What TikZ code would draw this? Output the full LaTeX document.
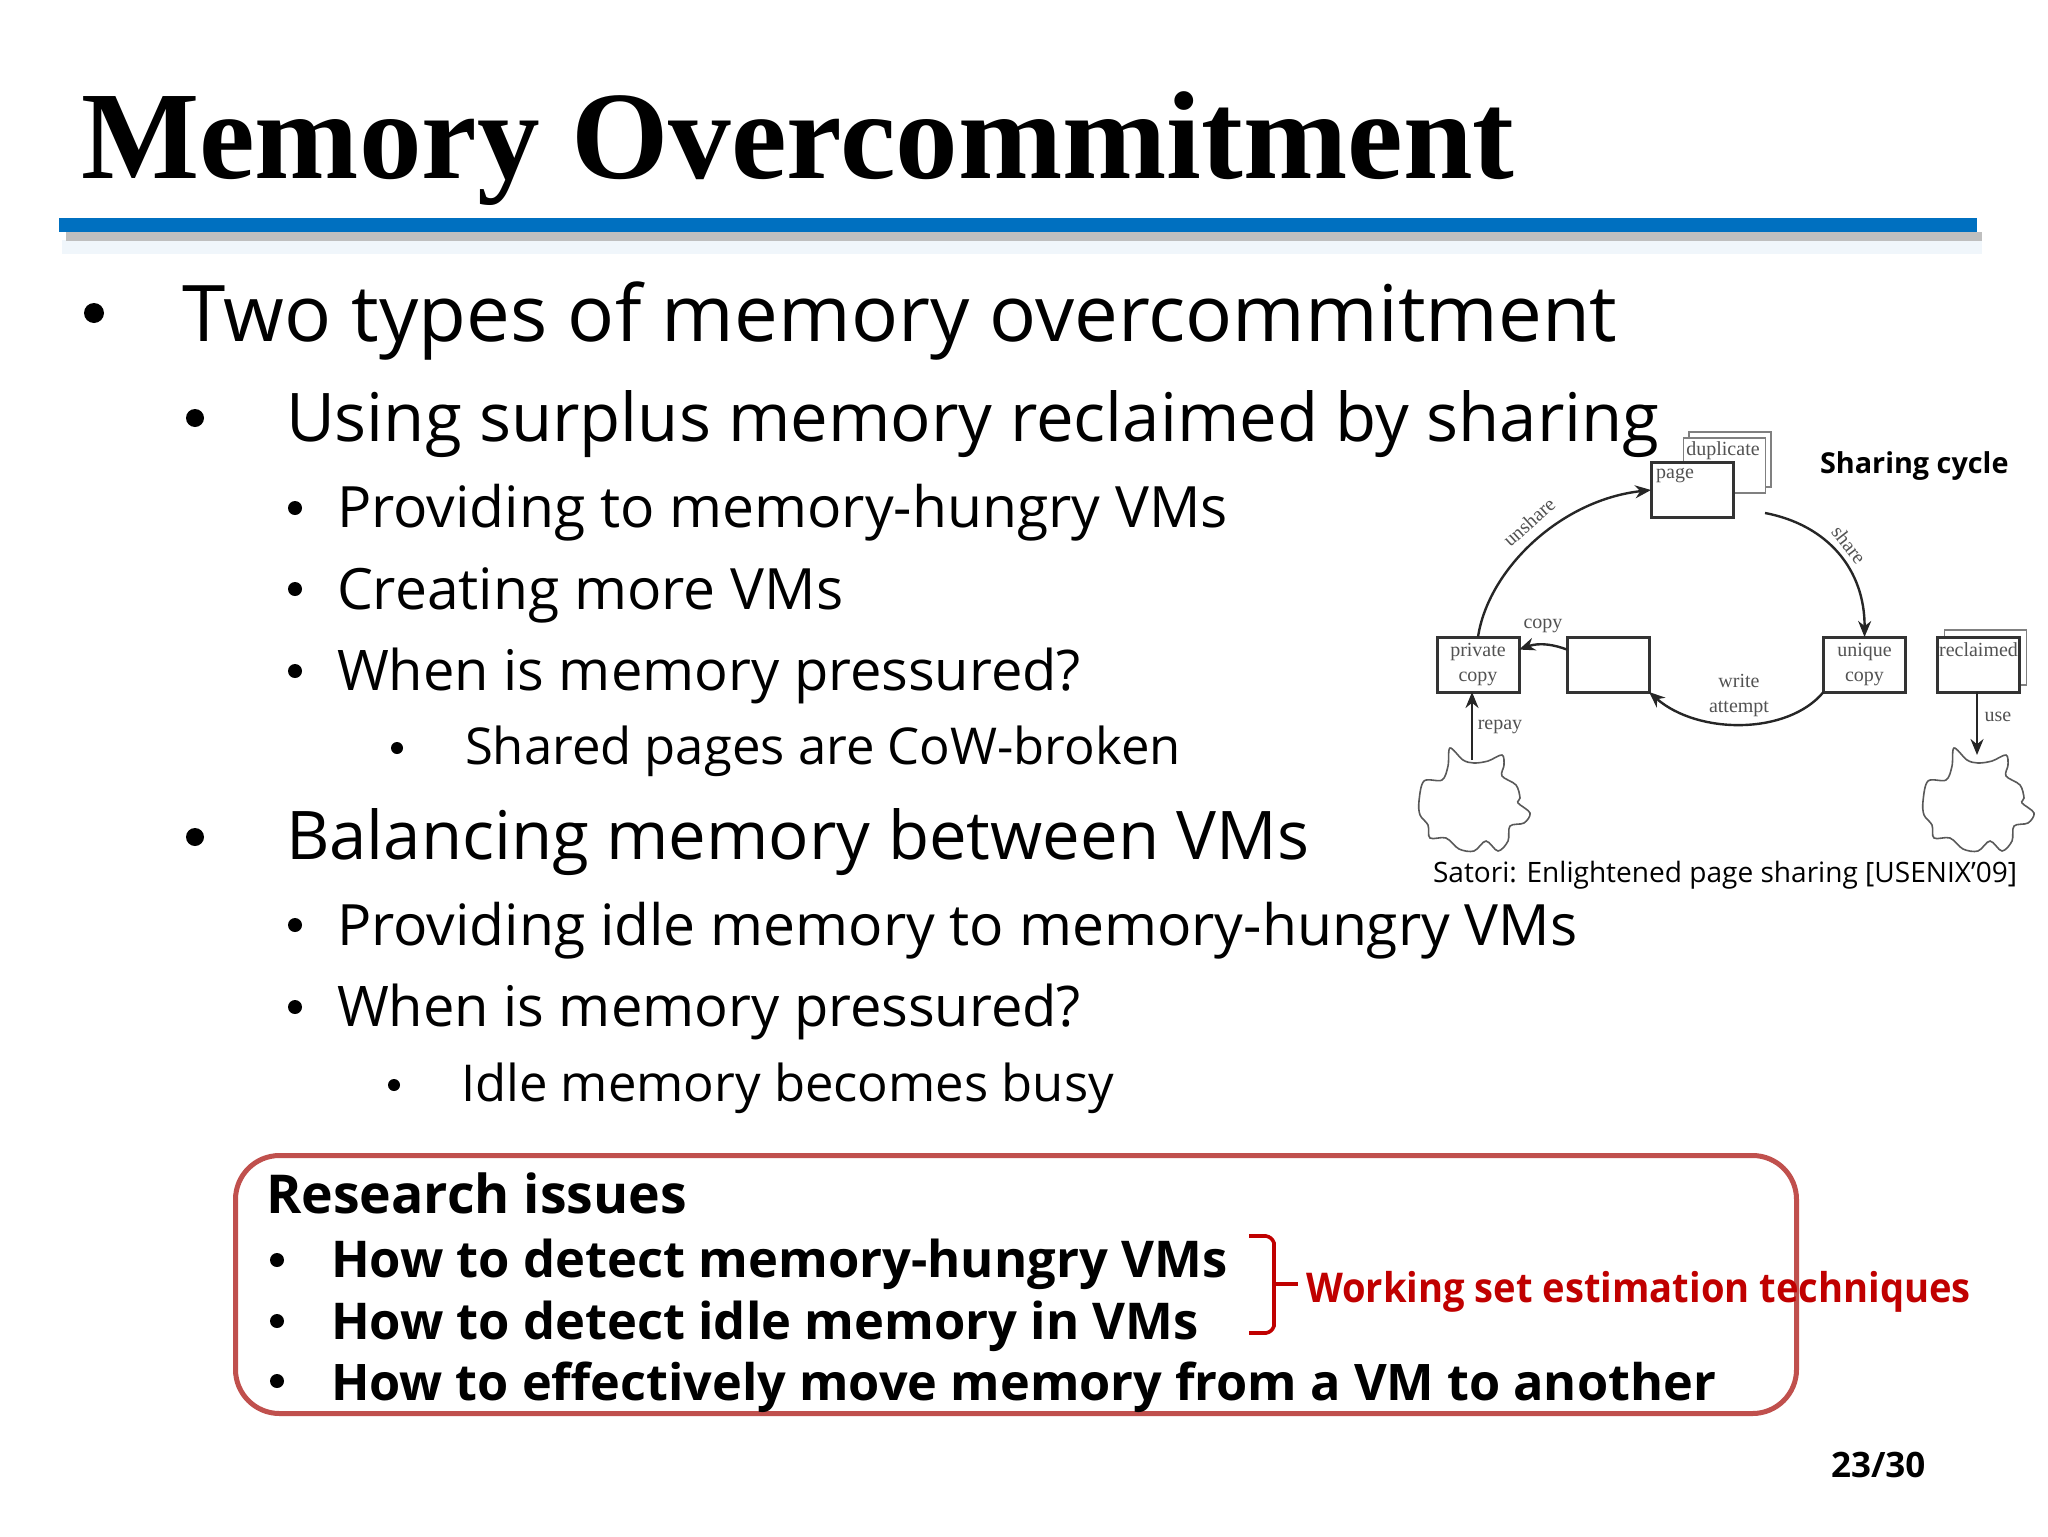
\documentclass[tikz,border=0pt]{standalone}
\usepackage{fontspec}
\setmainfont{Open Sans}
\newfontfamily\titlefont{Liberation Serif}
\newfontfamily\narrowfont[FakeStretch=0.93]{Open Sans}
\usetikzlibrary{arrows.meta,positioning}

\definecolor{barblue}{HTML}{0070C0}
\definecolor{boxred}{HTML}{C0504D}
\definecolor{notered}{HTML}{C00000}
\definecolor{inkgray}{HTML}{333333}

\begin{document}
\begin{tikzpicture}[x=0.5pt,y=-0.5pt]
\tikzstyle{every node}=[inner sep=0pt,outer sep=0pt]
\tikzstyle{titletext}=[anchor=base west,font=\titlefont\bfseries\fontsize{62.6}{70}\selectfont]
\tikzstyle{levelone}=[anchor=base west,font=\fontsize{39.05}{44}\selectfont]
\tikzstyle{leveltwo}=[anchor=base west,font=\fontsize{33.55}{38}\selectfont]
\tikzstyle{levelthree}=[anchor=base west,font=\fontsize{28.5}{32}\selectfont]
\tikzstyle{levelfour}=[anchor=base west,font=\fontsize{25.4}{30}\selectfont]
\tikzstyle{issuetext}=[anchor=base west,font=\bfseries\fontsize{25.35}{30}\selectfont]
\tikzstyle{dot}=[circle,fill=black]
\tikzstyle{pagebox}=[draw=inkgray,line width=1.5pt,fill=white,minimum width=41pt,minimum height=27.5pt,
  align=center,font=\titlefont\fontsize{10}{12.5}\selectfont,text=inkgray!85]
\tikzstyle{backbox}=[pagebox,draw=gray,line width=0.8pt]
\tikzstyle{steplabel}=[anchor=base,font=\titlefont\fontsize{10}{12.5}\selectfont,text=inkgray!85]
\tikzstyle{flow}=[-{Stealth[length=8pt,width=6.5pt]},draw=black!85,line width=1.2pt]
\tikzset{cloudblob/.pic={
  \draw[gray!70!black,line width=0.8pt] plot[smooth cycle,tension=0.55] coordinates {
    (-22,0) (-9,12) (2,15) (16,13) (30,7) (32,17) (30,28) (44,37) (48,50) (46,55)
    (58,65) (52,75) (38,78) (36,93) (26,103) (14,93) (2,103) (-13,101) (-26,90)
    (-42,90) (-44,77) (-52,67) (-53,53) (-48,33) (-30,32) (-24,18)};
}}
\useasboundingbox (0,0) rectangle (2048,1536);

%% title and bar
\node[titletext] (title) at (81,178) {Memory Overcommitment};
\fill[barblue!6] (62,240) rectangle (1982,254);
\fill[gray!50] (66,232) rectangle (1982,241);
\fill[barblue] (59,218) rectangle (1977,232);

%% slide text
\node[levelone] (typesline) at (182,341) {Two types of memory overcommitment};
\node[leveltwo] (surplusline) at (286,441) {Using surplus memory reclaimed by sharing};
\node[levelthree] (hungryline) at (337,527) {Providing to memory-hungry VMs};
\node[levelthree] (moreline) at (337,609) {Creating more VMs};
\node[levelthree,font=\fontsize{28}{32}\selectfont] (whenaline) at (337,690) {When is memory pressured?};
\node[levelfour] (brokenline) at (465,764.5) {Shared pages are CoW-broken};
\node[leveltwo] (balanceline) at (286,859.5) {Balancing memory between VMs};
\node[levelthree] (idleline) at (337,945) {Providing idle memory to memory-hungry VMs};
\node[levelthree,font=\fontsize{28}{32}\selectfont] (whenbline) at (337,1026.5) {When is memory pressured?};
\node[levelfour] (busyline) at (461,1101) {Idle memory becomes busy};

\foreach \dotx/\doty/\dotsize/\dotname in {94/313/10/a,195/418/9/b,295/508/7/c,295/589/7/d,295/671/7/e,397/748/6/f,
    195/837/9/g,295/925/7/h,295/1007/7/i,394/1085/6/j,277/1260/7/k,277/1321/7/l,277/1381/7/m}
  \node[dot,minimum size=\dotsize pt] (dot\dotname) at (\dotx,\doty) {};

%% research box
\draw[boxred,line width=2.5pt,rounded corners=22pt] (235.5,1155.5) rectangle (1796.5,1413.5);
\node[issuetext,font=\bfseries\fontsize{26.8}{30}\selectfont] (issuehead) at (266,1213) {Research issues};
\node[issuetext] (issuea) at (331,1277) {How to detect memory-hungry VMs};
\node[issuetext] (issueb) at (331,1339) {How to detect idle memory in VMs};
\node[issuetext,font=\bfseries\fontsize{25.2}{30}\selectfont] (issuec) at (331,1400) {How to effectively move memory from a VM to another};
\node[anchor=base west,text=notered,font=\narrowfont\bfseries\fontsize{20.5}{25}\selectfont] (worknote) at (1306,1302) {Working set estimation techniques};
\coordinate (bracetip) at (1298,1284);
\draw[notered,line width=1.8pt] (1249,1236) -- (1266,1236) to[bend left=30] (1274,1243) -- (1274,1326)
  to[bend left=30] (1266,1333) -- (1249,1333);
\draw[notered,line width=2pt] (1274,1284) -- (bracetip);

%% sharing cycle
\node[backbox] (dupback) at (1730,459.5) {};
\node[backbox] (dupmid) at (1724.5,465.5) {};
\node[pagebox] (page) at (1692,490) {};
\node[pagebox] (private) at (1478,664.5) {private\\copy};
\node[pagebox] (middle) at (1608,664.5) {};
\node[pagebox] (unique) at (1864.5,664.5) {unique\\copy};
\node[backbox] (reclback) at (1985.5,657.5) {};
\node[pagebox] (reclaimed) at (1978.5,664.5) {};

\node[steplabel] (duplabel) at (1723,455) {duplicate};
\node[steplabel] (pagelabel) at (1675,478) {page};
\node[steplabel] (recllabel) at (1978.5,656) {reclaimed};
\node[steplabel] (copylabel) at (1543,628) {copy};
\node[steplabel] (repaylabel) at (1500,729) {repay};
\node[steplabel] (uselabel) at (1998,721) {use};
\node[steplabel,align=center,anchor=center] (writelabel) at (1739,695) {write\\attempt};
\node[steplabel,anchor=center,rotate=42] (unsharelabel) at (1529,522) {unshare};
\node[steplabel,anchor=center,rotate=-52] (sharelabel) at (1849,545) {share};

\node[anchor=base west,font=\bfseries\fontsize{14.4}{18}\selectfont] (cyclehead) at (1820,473) {Sharing cycle};
\node[anchor=base west,font=\fontsize{14.03}{18}\selectfont] (satori) at (1433,882) {Satori: Enlightened page sharing [USENIX’09]};

\pic at (1472,748) {cloudblob};
\pic at (1976,748) {cloudblob};
\coordinate (leftcloud) at (1472,760);
\coordinate (rightcloud) at (1977,755);
\coordinate (sharestart) at (1765,513);

\draw[flow] (private.north) .. controls (1488,570) and (1560,500) .. (page.west);
\draw[flow] (sharestart) .. controls (1828,525) and (1865,570) .. (unique.north);
\draw[flow] (unique.south west) .. controls (1788,735) and (1698,735) .. (middle.south east);
\draw[flow] (middle.160) .. controls (1555,645) and (1540,642) .. (private.20);
\draw[flow] (leftcloud) -- (leftcloud|-private.south);
\draw[flow] (rightcloud|-reclaimed.south) -- (rightcloud);

\node[anchor=base west,font=\bfseries\fontsize{17.5}{20}\selectfont] (pagenum) at (1831,1477) {23/30};
\end{tikzpicture}
\end{document}
